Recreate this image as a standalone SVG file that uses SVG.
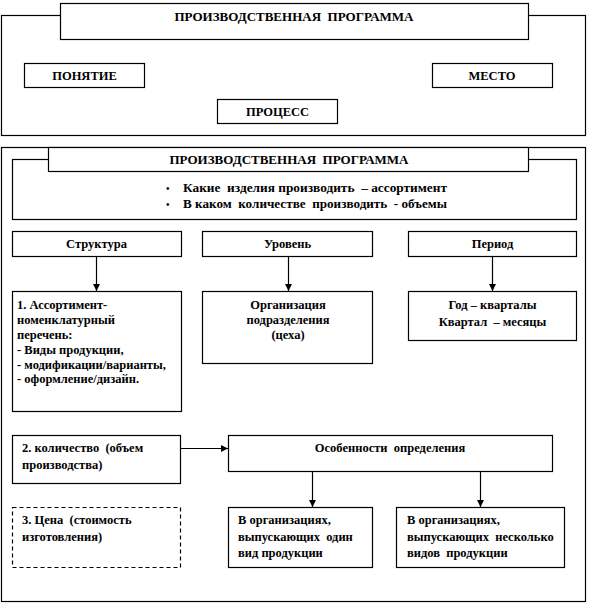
<svg xmlns="http://www.w3.org/2000/svg" width="590" height="604" viewBox="0 0 590 604">
<defs>
<marker id="ah" viewBox="0 0 8 8" refX="8" refY="4" markerWidth="7" markerHeight="7" markerUnits="userSpaceOnUse" orient="auto">
<path d="M0,0 L8,4 L0,8 Z" fill="#000"/>
</marker>
<style>
rect{fill:#fff;stroke:#000;stroke-width:1.2}
.frame{fill:none}
.dash{stroke-dasharray:4 3}
text{font-family:"Liberation Serif","Times New Roman",serif;font-weight:bold;font-size:12.5px;fill:#000;white-space:pre}
.t{font-size:13px}
.c{text-anchor:middle}
.conn line{stroke:#000;stroke-width:1.2;marker-end:url(#ah)}
</style>
</defs>
<rect width="590" height="604" style="fill:#fff;stroke:none"/>

<g id="frame-top"><rect class="frame" x="1.5" y="15.5" width="584" height="120"/></g>
<g id="title-top"><rect x="60.5" y="3.5" width="468" height="36"/><text class="t c" x="294" y="21">ПРОИЗВОДСТВЕННАЯ  ПРОГРАММА</text></g>
<g id="ponyatie"><rect x="24.5" y="63.5" width="120" height="24"/><text class="c" x="84.5" y="80">ПОНЯТИЕ</text></g>
<g id="mesto"><rect x="432.5" y="63.5" width="120" height="24"/><text class="c" x="492" y="80">МЕСТО</text></g>
<g id="process"><rect x="217.5" y="99.5" width="120" height="24"/><text class="c" x="277.5" y="116">ПРОЦЕСС</text></g>

<g id="frame-main"><rect class="frame" x="1.5" y="147.5" width="584" height="454"/></g>
<g id="frame-inner"><rect class="frame" x="12.5" y="159.5" width="564" height="60"/>
<text x="166" y="192" style="font-size:10px">•</text><text x="183" y="192" textLength="264" lengthAdjust="spacingAndGlyphs">Какие  изделия производить  – ассортимент</text>
<text x="166" y="208" style="font-size:10px">•</text><text x="183" y="208" textLength="264" lengthAdjust="spacingAndGlyphs">В каком  количестве  производить  - объемы</text></g>
<g id="title-main"><rect x="48.5" y="147.5" width="480" height="24"/><text class="t c" x="289" y="164">ПРОИЗВОДСТВЕННАЯ  ПРОГРАММА</text></g>

<g id="struktura"><rect x="12.5" y="231.5" width="169" height="25"/><text class="c" x="96.5" y="248">Структура</text></g>
<g id="uroven"><rect x="202.5" y="231.5" width="170" height="25"/><text class="c" x="287.5" y="248">Уровень</text></g>
<g id="period"><rect x="408.5" y="231.5" width="168" height="25"/><text class="c" x="492.5" y="248">Период</text></g>

<g id="assortiment"><rect x="12.5" y="291.5" width="169" height="120"/>
<text x="17" y="309">1. Ассортимент-</text>
<text x="17" y="324">номенклатурный</text>
<text x="17" y="339">перечень:</text>
<text x="17" y="354">- Виды продукции,</text>
<text x="17" y="369">- модификации/варианты,</text>
<text x="17" y="383">- оформление/дизайн.</text></g>
<g id="organizatsiya"><rect x="202.5" y="291.5" width="170" height="72"/>
<text class="c" x="288" y="309">Организация</text>
<text class="c" x="288" y="324">подразделения</text>
<text class="c" x="288" y="339">(цеха)</text></g>
<g id="god"><rect x="408.5" y="291.5" width="168" height="49"/>
<text class="c" x="492.5" y="309">Год – кварталы</text>
<text class="c" x="492.5" y="326">Квартал  – месяцы</text></g>

<g id="kolichestvo"><rect x="12.5" y="435.5" width="168" height="48"/>
<text x="22" y="452">2. количество  (объем</text>
<text x="22" y="469">производства)</text></g>
<g id="osobennosti"><rect x="228.5" y="435.5" width="324" height="36"/>
<text class="c" x="390" y="452">Особенности  определения</text></g>
<g id="tsena"><rect class="dash" x="12.5" y="507.5" width="168" height="60"/>
<text x="22" y="524">3. Цена  (стоимость</text>
<text x="22" y="541">изготовления)</text></g>
<g id="odin-vid"><rect x="228.5" y="507.5" width="144" height="60"/>
<text x="238" y="524">В организациях,</text>
<text x="238" y="541">выпускающих  один</text>
<text x="238" y="557">вид продукции</text></g>
<g id="neskolko"><rect x="396.5" y="507.5" width="168" height="60"/>
<text x="407" y="524">В организациях,</text>
<text x="407" y="541">выпускающих  несколько</text>
<text x="407" y="557">видов  продукции</text></g>

<g id="connectors" class="conn">
<line x1="96.5" y1="256.5" x2="96.5" y2="291"/>
<line x1="288.5" y1="256.5" x2="288.5" y2="291"/>
<line x1="492.5" y1="256.5" x2="492.5" y2="291"/>
<line x1="180.5" y1="448.5" x2="228" y2="448.5"/>
<line x1="312.5" y1="471.5" x2="312.5" y2="507"/>
<line x1="480.5" y1="471.5" x2="480.5" y2="507"/>
</g>
</svg>
